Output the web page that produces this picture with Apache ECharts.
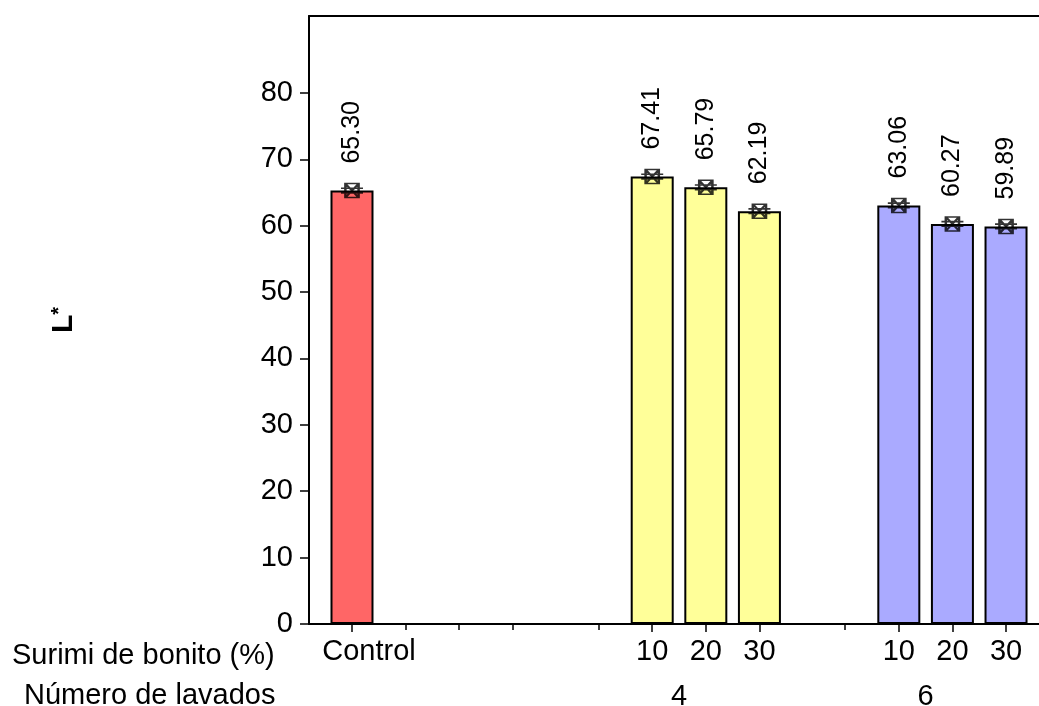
<!DOCTYPE html>
<html>
<head>
<meta charset="utf-8">
<script src="https://cdn.jsdelivr.net/npm/echarts@6/dist/echarts.min.js"></script>
<style>
  html, body { margin: 0; padding: 0; background: #fff; }
  #main { width: 1039px; height: 706px; }
</style>
</head>
<body>
<div id="main"></div>
<script>
// bar positions on the x scale (one unit = gap between neighbouring bars)
const positions = [0, 5.6, 6.6, 7.6, 10.2, 11.2, 12.2];
const surimiLabels = ['Control', '10', '20', '30', '10', '20', '30'];
const lValues = [65.30, 67.41, 65.79, 62.19, 63.06, 60.27, 59.89];
const barColors = ['#ff6666', '#ffff99', '#ffff99', '#ffff99', '#aaaaff', '#aaaaff', '#aaaaff'];
const minorTicks = [1, 2, 3, 4.6, 9.2];
const washPositions = [6.1, 10.7];
const washLabels = ['4', '6'];
const yTicks = [0, 10, 20, 30, 40, 50, 60, 70, 80];

const FONT = 'Liberation Sans, Arial, sans-serif';

function labelAt(list, names) {
    return function (v) {
        for (let i = 0; i < list.length; i++) {
            if (Math.abs(list[i] - v) < 0.01) {
                // "Control" sits a little right of its tick in the original
                return names[i] === 'Control' ? '{c|' + names[i] + '}' : names[i];
            }
        }
        return '';
    };
}

const chartDom = document.getElementById('main');
const myChart = echarts.init(chartDom);

// box with a cross plus the two short error-bar caps
const markerPath = 'path://M4 0 H16 V12 H4 Z M4 0 L16 12 M16 0 L4 12 M0 4 H20 M0 8 H20';

const baseX = {
    type: 'value',
    min: -0.802,
    max: 12.815,
    splitLine: { show: false }
};

const option = {
    animation: false,
    grid: { left: 309, top: 16, right: 0, bottom: 82, containLabel: false, outerBoundsMode: 'none' },
    xAxis: [
        Object.assign({}, baseX, {
            position: 'bottom',
            axisLine: { show: true, onZero: false, lineStyle: { color: '#000', width: 2 } },
            axisTick: { show: true, length: 8, customValues: positions, lineStyle: { color: '#000', width: 1.5 } },
            axisLabel: {
                customValues: positions,
                formatter: labelAt(positions, surimiLabels),
                color: '#000', fontSize: 29, fontFamily: FONT, margin: 13,
                rich: { c: { fontSize: 29, fontFamily: FONT, color: '#000', padding: [0, 0, 0, 34] } }
            }
        }),
        Object.assign({}, baseX, {
            position: 'bottom',
            axisLine: { show: false, onZero: false },
            axisTick: { show: true, length: 6, customValues: minorTicks, lineStyle: { color: '#000', width: 1.5 } },
            axisLabel: { show: false }
        }),
        Object.assign({}, baseX, {
            position: 'bottom',
            offset: 45,
            axisLine: { show: false, onZero: false },
            axisTick: { show: false },
            axisLabel: {
                customValues: washPositions,
                formatter: (v) => {
                    for (let i = 0; i < washPositions.length; i++) {
                        if (Math.abs(washPositions[i] - v) < 0.01) return washLabels[i];
                    }
                    return '';
                },
                color: '#000', fontSize: 29, fontFamily: FONT, margin: 13
            }
        }),
        Object.assign({}, baseX, {
            position: 'top',
            axisLine: { show: true, onZero: false, lineStyle: { color: '#000', width: 2 } },
            axisTick: { show: false },
            axisLabel: { show: false }
        })
    ],
    yAxis: {
        type: 'value',
        min: 0,
        max: 91.6,
        interval: 10,
        name: '{a|L}{b|*}',
        nameLocation: 'middle',
        nameGap: 230,
        nameTextStyle: {
            rich: {
                a: { fontSize: 30, fontWeight: 'bold', fontFamily: FONT, color: '#000' },
                b: { fontSize: 20, fontWeight: 'bold', fontFamily: FONT, color: '#000', verticalAlign: 'top', padding: [0, 0, 10, 0] }
            }
        },
        splitLine: { show: false },
        axisLine: { show: true, onZero: false, lineStyle: { color: '#000', width: 2 } },
        axisTick: { show: true, length: 9, customValues: yTicks, lineStyle: { color: '#000', width: 1.5 } },
        axisLabel: { customValues: yTicks, color: '#000', fontSize: 29, fontFamily: FONT, margin: 16 }
    },
    graphic: [
        { type: 'text', left: 12, top: 641, style: { text: 'Surimi de bonito (%)', fontSize: 29, fontFamily: FONT, fill: '#000' } },
        { type: 'text', left: 24, top: 681, style: { text: 'Número de lavados', fontSize: 29, fontFamily: FONT, fill: '#000' } }
    ],
    series: [
        {
            type: 'bar',
            xAxisIndex: 0,
            barWidth: 43,
            data: positions.map((p, i) => ({
                value: [p, lValues[i]],
                itemStyle: { color: barColors[i], borderColor: '#000', borderWidth: 2 }
            })),
            label: {
                show: true,
                position: 'top',
                distance: 27,
                rotate: 90,
                align: 'left',
                verticalAlign: 'middle',
                color: '#000',
                fontSize: 25,
                fontFamily: FONT,
                formatter: (p) => p.value[1].toFixed(2)
            }
        },
        {
            type: 'scatter',
            xAxisIndex: 0,
            symbol: markerPath,
            symbolSize: [22, 14],
            itemStyle: { color: 'none', borderColor: '#000', borderWidth: 2 },
            data: positions.map((p, i) => [p, lValues[i]]),
            z: 5
        }
    ]
};

myChart.setOption(option);
</script>
</body>
</html>
